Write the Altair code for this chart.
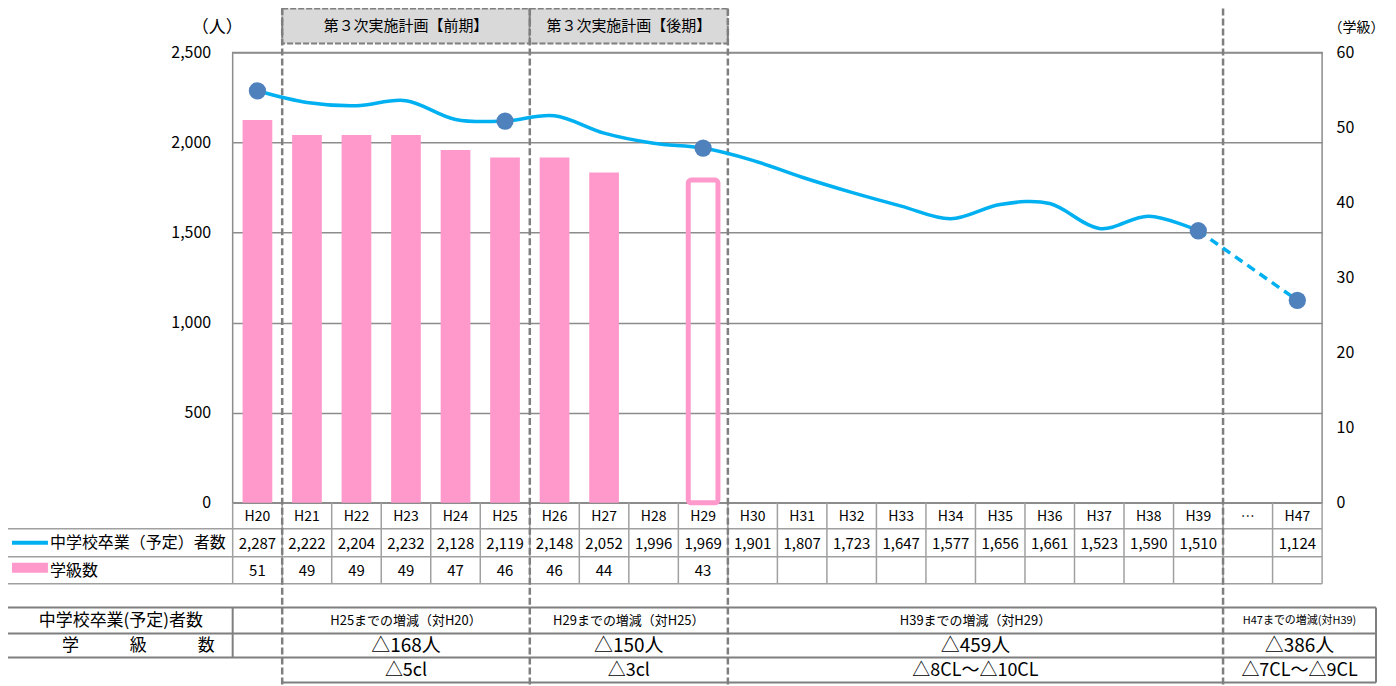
import altair as alt
import pandas as pd

# ---------------- data ----------------
years = ["H20", "H21", "H22", "H23", "H24", "H25", "H26", "H27", "H28", "H29",
         "H30", "H31", "H32", "H33", "H34", "H35", "H36", "H37", "H38", "H39", "…", "H47"]
graduates = [2287, 2222, 2204, 2232, 2128, 2119, 2148, 2052, 1996, 1969,
             1901, 1807, 1723, 1647, 1577, 1656, 1661, 1523, 1590, 1510, None, 1124]
classes = [51, 49, 49, 49, 47, 46, 46, 44, None, 43,
           None, None, None, None, None, None, None, None, None, None, None, None]
marker_years = ["H20", "H25", "H29", "H39", "H47"]
outline_years = ["H29"]
solid_last = "H39"
projection_years = ["H39", "H47"]

plan_titles = ["第３次実施計画【前期】", "第３次実施計画【後期】"]
plan_first = ["H21", "H26"]
plan_last = ["H25", "H29"]

period_first = ["H21", "H26", "H30", "…"]
period_last = ["H25", "H29", "H39", "H47"]
period_heads = ["H25までの増減（対H20）", "H29までの増減（対H25）", "H39までの増減（対H29）", "H47までの増減(対H39)"]
period_people = ["△168人", "△150人", "△459人", "△386人"]
period_classes = ["△5cl", "△3cl", "△8CL～△10CL", "△7CL～△9CL"]

row_label_people = "中学校卒業（予定）者数"
row_label_classes = "学級数"
bottom_label_people = "中学校卒業(予定)者数"
bottom_label_classes = "学　　　級　　　数"
left_title = "（人）"
right_title = "（学級）"

# ---------------- layout ----------------
W, H = 1091, 451
N = len(years)
STEP = W / N
LEFT_PX = -226
RIGHT_PX = 1145
FONT = "Noto Sans CJK JP"
GRID = "#8C8C8C"
TBL = "#A0A0A0"
DASH = "#7F7F7F"
PINK = "#FF99CC"
BLUE = "#00B0F0"
MARK = "#4F81BD"

idx = {y: i for i, y in enumerate(years)}
df = pd.DataFrame({
    "year": years,
    "i": list(range(N)),
    "g": graduates,
    "c": classes,
})
df["mid"] = df["i"] + 0.5
df["b0"] = df["i"] + 0.2
df["b1"] = df["i"] + 0.8

xscale = alt.Scale(domain=[0, N], nice=False, zero=False)


def X(f):
    return alt.X(f, type="quantitative", scale=xscale, axis=None)


one = pd.DataFrame({"k": [0]})


def hline(x0, x1, y, color=TBL, w=1.5, dash=None):
    kw = dict(color=color, strokeWidth=w)
    if dash:
        kw["strokeDash"] = dash
    return alt.Chart(one).mark_rule(**kw).encode(
        x=alt.value(x0), x2=alt.value(x1), y=alt.value(y))


def vline(x, y0, y1, color=TBL, w=1.5):
    return alt.Chart(one).mark_rule(color=color, strokeWidth=w).encode(
        x=alt.value(x), y=alt.value(y0), y2=alt.value(y1))


def label(text, x, y, size=16, align="center"):
    return alt.Chart(one).mark_text(text=text, fontSize=size, align=align, color="black").encode(
        x=alt.value(x), y=alt.value(y))


# ---------------- axes ----------------
left_axis = alt.Axis(orient="left", values=[0, 500, 1000, 1500, 2000, 2500],
                     labelExpr="format(datum.value, ',')",
                     grid=True, gridColor=GRID, gridWidth=1.5, domain=False, ticks=False,
                     labelPadding=22, labelFontSize=16, labelColor="black",
                     title=left_title, titleAngle=0, titleX=-16, titleY=-25,
                     titleAlign="center", titleBaseline="middle", titleFontSize=17,
                     titleFontWeight="normal", titleColor="black")
right_axis = alt.Axis(orient="right", values=[0, 10, 20, 30, 40, 50, 60],
                      grid=False, domain=False, ticks=False,
                      labelPadding=14, labelFontSize=16, labelColor="black",
                      title=right_title, titleAngle=0, titleX=34, titleY=-25,
                      titleAlign="center", titleBaseline="middle", titleFontSize=14,
                      titleFontWeight="normal", titleColor="black")

yc = alt.Y("c:Q", scale=alt.Scale(domain=[0, 60], nice=False), axis=right_axis)
yg = alt.Y("g:Q", scale=alt.Scale(domain=[0, 2500], nice=False), axis=left_axis)

# ---------------- bars ----------------
filled_df = df[df["c"].notna() & ~df["year"].isin(outline_years)]
outline_df = df[df["year"].isin(outline_years)]
bars = alt.layer(
    alt.Chart(filled_df).mark_bar(color=PINK).encode(
        x=X("b0"), x2=alt.X2("b1"), y=yc, y2=alt.datum(0)),
    alt.Chart(outline_df).mark_bar(fillOpacity=0, stroke=PINK, strokeWidth=5, cornerRadius=3).encode(
        x=X("b0"), x2=alt.X2("b1"), y=yc, y2=alt.datum(0)),
)

# ---------------- line ----------------
solid_df = df[df["i"] <= idx[solid_last]]
proj_df = df[df["year"].isin(projection_years)]
mark_df = df[df["year"].isin(marker_years)]
people = alt.layer(
    alt.Chart(solid_df).mark_line(color=BLUE, strokeWidth=3.5, interpolate="cardinal")
    .encode(x=X("mid"), y=yg),
    alt.Chart(proj_df).mark_line(color=BLUE, strokeWidth=3.5, strokeDash=[9, 6])
    .encode(x=X("mid"), y=yg),
    alt.Chart(mark_df).mark_circle(size=300, color=MARK, opacity=1)
    .encode(x=X("mid"), y=yg),
)

# ---------------- plan header boxes ----------------
plan_df = pd.DataFrame({
    "title": plan_titles,
    "x0": [idx[a] for a in plan_first],
    "x1": [idx[b] + 1 for b in plan_last],
})
plan_df["mid"] = (plan_df["x0"] + plan_df["x1"]) / 2
plan_box = alt.Chart(plan_df).mark_rect(fill="#D9D9D9", stroke=DASH, strokeWidth=2, strokeDash=[6, 2]).encode(
    x=X("x0"), x2=alt.X2("x1"), y=alt.value(-44), y2=alt.value(-9))
plan_text = alt.Chart(plan_df).mark_text(fontSize=15, color="black").encode(
    x=X("mid"), y=alt.value(-26), text="title:N")

# ---------------- dashed separators ----------------
sep_df = pd.DataFrame({"b": sorted({idx[a] for a in plan_first + period_first})})
separators = alt.Chart(sep_df).mark_rule(color=DASH, strokeWidth=2.5, strokeDash=[7, 3]).encode(
    x=X("b"), y=alt.value(-44), y2=alt.value(636))

# ---------------- data table ----------------
bound_df = pd.DataFrame({"b": list(range(N + 1))})
tbl_v = alt.Chart(bound_df).mark_rule(color=TBL, strokeWidth=1.5).encode(
    x=X("b"), y=alt.value(451), y2=alt.value(532))
tbl_frame = [
    hline(LEFT_PX, W, 477), hline(LEFT_PX, W, 505), hline(LEFT_PX, W, 532),
    vline(LEFT_PX, 477, 532),
]
year_text = alt.Chart(df).mark_text(fontSize=14, color="black").encode(
    x=X("mid"), y=alt.value(465), text="year:N")
g_text = alt.Chart(df[df["g"].notna()]).mark_text(fontSize=15, color="black").encode(
    x=X("mid"), y=alt.value(492), text=alt.Text("g:Q", format=","))
c_text = alt.Chart(df[df["c"].notna()]).mark_text(fontSize=15, color="black").encode(
    x=X("mid"), y=alt.value(519), text=alt.Text("c:Q", format="d"))
legend_line = hline(LEFT_PX + 5, LEFT_PX + 41, 491, color=BLUE, w=4)
legend_rect = alt.Chart(one).mark_rect(color=PINK).encode(
    x=alt.value(LEFT_PX + 5), x2=alt.value(LEFT_PX + 41), y=alt.value(511), y2=alt.value(521))
row_labels = [
    label(row_label_people, LEFT_PX + 43, 491, 16, "left"),
    label(row_label_classes, LEFT_PX + 43, 519, 16, "left"),
]

# ---------------- bottom summary table ----------------
period_df = pd.DataFrame({
    "head": period_heads,
    "people": period_people,
    "cls": period_classes,
    "x0": [idx[a] for a in period_first],
    "x1": [idx[b] + 1 for b in period_last],
})
period_df.loc[period_df.index[-1], "x1"] = RIGHT_PX / STEP
period_df["mid"] = (period_df["x0"] + period_df["x1"]) / 2
main_p = period_df.iloc[:-1]
last_p = period_df.iloc[-1:]
bottom = [
    alt.Chart(main_p).mark_text(fontSize=13, color="black").encode(x=X("mid"), y=alt.value(569), text="head:N"),
    alt.Chart(last_p).mark_text(fontSize=11, color="black").encode(x=X("mid"), y=alt.value(569), text="head:N"),
    alt.Chart(period_df).mark_text(fontSize=19, color="black").encode(x=X("mid"), y=alt.value(594), text="people:N"),
    alt.Chart(period_df).mark_text(fontSize=18, color="black").encode(x=X("mid"), y=alt.value(619), text="cls:N"),
    label(bottom_label_people, -112, 569, 17),
    label(bottom_label_classes, -171, 594, 17, "left"),
    hline(LEFT_PX, RIGHT_PX, 556, color=DASH, w=2),
    hline(LEFT_PX, RIGHT_PX, 582, color=DASH, w=2),
    hline(LEFT_PX, RIGHT_PX, 606, color=DASH, w=2),
    hline(STEP * idx[period_first[0]], RIGHT_PX, 631, color=DASH, w=2),
    vline(LEFT_PX, 556, 606, color=DASH, w=2),
    vline(0, 556, 606, color=DASH, w=2),
    vline(RIGHT_PX, 556, 631, color=DASH, w=2),
]

chart = alt.layer(
    bars, plan_box, plan_text, tbl_v, *tbl_frame, year_text, g_text, c_text,
    legend_line, legend_rect, *row_labels, *bottom, separators, people,
).resolve_scale(y="independent").properties(
    width=W, height=H,
    padding={"left": 225, "top": 44, "right": 66, "bottom": 183},
    autosize=alt.AutoSizeParams(type="none"),
).configure(font=FONT).configure_view(stroke=GRID, strokeWidth=1.5)

chart.save("out.html", embed_options={"renderer": "svg", "actions": False})
